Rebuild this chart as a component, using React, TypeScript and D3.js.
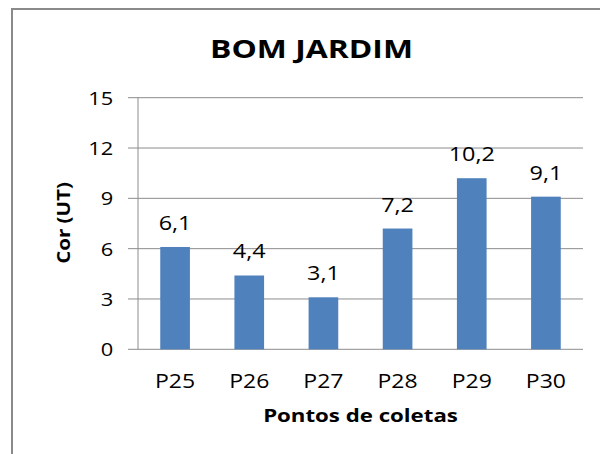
import React from "react";
import * as d3 from "d3";

const categories = ["P25", "P26", "P27", "P28", "P29", "P30"];
const values = [6.1, 4.4, 3.1, 7.2, 10.2, 9.1];
const valueLabels = ["6,1", "4,4", "3,1", "7,2", "10,2", "9,1"];
const yTicks = [0, 3, 6, 9, 12, 15];
const title = "BOM JARDIM";
const yTitle = "Cor (UT)";
const xTitle = "Pontos de coletas";

const W = 600;
const H = 454;
const FONT = "'Open Sans', 'Liberation Sans', sans-serif";
const SX = 1.15;
const SXB = 1.25;

function T({ x, y, sx, rotate = 0, children, ...rest }: any) {
  return (
    <g transform={`translate(${x},${y}) rotate(${rotate}) scale(${sx},1)`}>
      <text x={0} y={0} fill="#000" {...rest}>
        {children}
      </text>
    </g>
  );
}

export default function App() {
  const left = 138;
  const right = 583;
  const top = 97.7;
  const bottom = 349.3;

  const band = d3.scaleBand<string>().domain(categories).range([left, right]);
  const y = d3.scaleLinear().domain([0, 15]).range([bottom, top]);
  const barW = band.bandwidth() / 2.5;

  return (
    <svg width={W} height={H} style={{ position: "absolute", left: 0, top: 0, background: "#fff" }} fontFamily={FONT}>
      <rect x={0} y={0} width={W} height={H} fill="#fff" />
      <rect x={12} y={9} width={W + 20} height={H + 20} fill="none" stroke="#8a8a8a" strokeWidth={2} />
      <T x={311.5} y={58.3} sx={SXB} textAnchor="middle" fontSize={25.5} fontWeight="bold">
        {title}
      </T>
      {yTicks.map((t) => (
        <g key={t}>
          <line x1={128} x2={right} y1={y(t)} y2={y(t)} stroke="#8c8c8c" strokeWidth={1} />
          <T x={113.3} y={y(t) + 7} sx={SX} textAnchor="end" fontSize={19}>
            {t}
          </T>
        </g>
      ))}
      <line x1={left} x2={left} y1={top} y2={bottom} stroke="#8c8c8c" strokeWidth={1} />
      {categories.map((c, i) => {
        const cx = (band(c) as number) + band.bandwidth() / 2;
        return (
          <g key={c}>
            <rect x={cx - barW / 2} y={y(values[i])} width={barW} height={bottom - y(values[i])} fill="#4F81BD" />
            <T x={cx} y={y(values[i]) - 17} sx={1.2} textAnchor="middle" fontSize={19.5}>
              {valueLabels[i]}
            </T>
            <T x={cx} y={387.7} sx={SX} textAnchor="middle" fontSize={20}>
              {c}
            </T>
          </g>
        );
      })}
      <T x={360.5} y={421.7} sx={SXB} textAnchor="middle" fontSize={17.8} fontWeight="bold">
        {xTitle}
      </T>
      <T x={69.5} y={223} sx={1.14} rotate={-90} textAnchor="middle" fontSize={18} fontWeight="bold">
        {yTitle}
      </T>
    </svg>
  );
}
